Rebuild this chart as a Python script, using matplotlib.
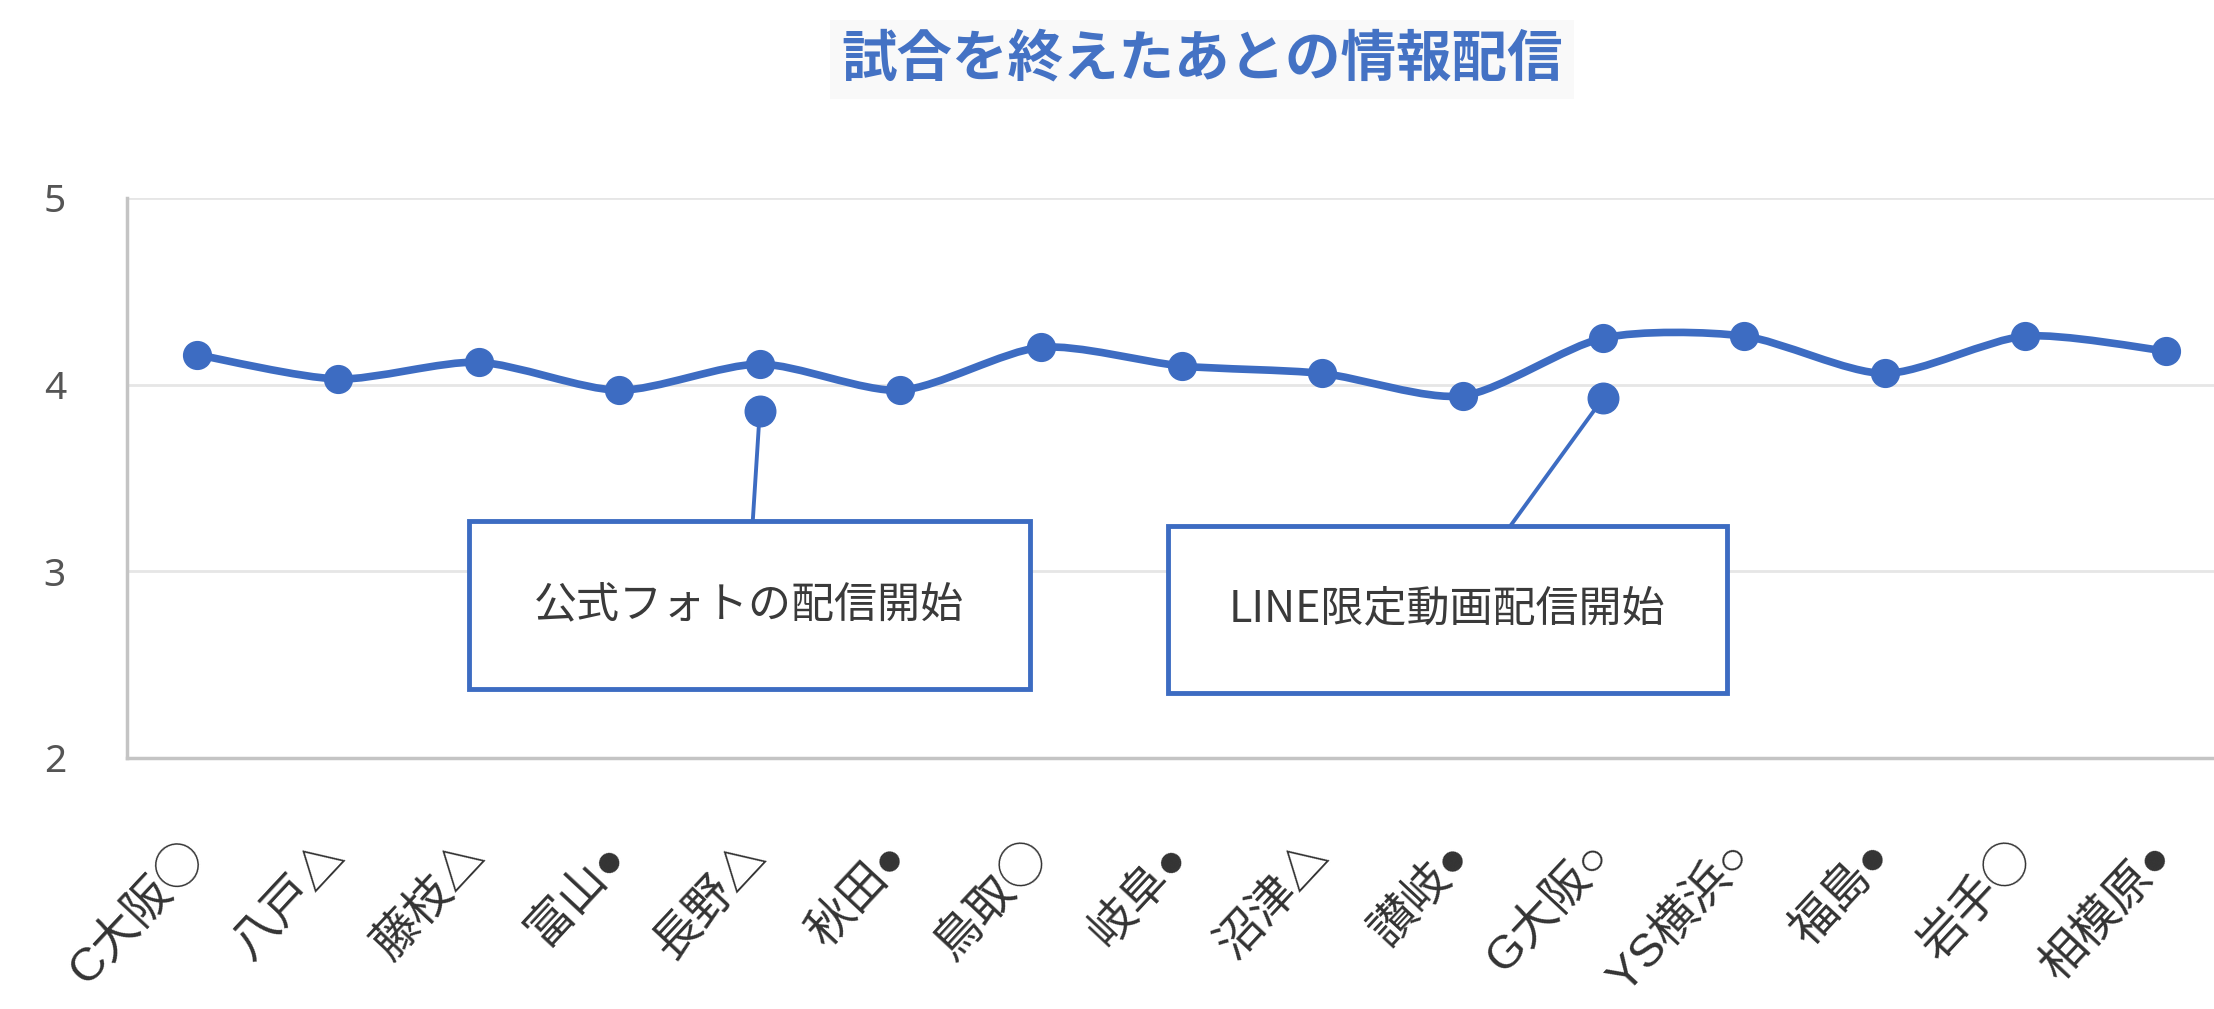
import matplotlib.pyplot as plt
from matplotlib.path import Path
from matplotlib.patches import PathPatch, Rectangle
import numpy as np

plt.rcParams['font.family'] = ['Noto Sans CJK JP', 'DejaVu Sans']

# ratings per match
teams = ['C大阪◯', '八戸△', '藤枝△', '富山●', '長野△', '秋田●', '鳥取◯', '岐阜●',
         '沼津△', '讃岐●', 'G大阪○', 'YS横浜○', '福島●', '岩手◯', '相模原●']
scores = [4.16, 4.03, 4.12, 3.97, 4.11, 3.97, 4.20, 4.10,
          4.06, 3.94, 4.25, 4.26, 4.06, 4.26, 4.18]

# events marked below the line
event_idx = [4, 10]
event_vals = [3.86, 3.93]
event_text = ['公式フォトの配信開始', 'LINE限定動画配信開始']

blue = '#3d6cc2'

fig = plt.figure(figsize=(22.14, 10.09), dpi=100)
ax = fig.add_axes([0.0574, 0.2488, 0.9526, 0.555])

x = np.arange(len(scores))
y = np.array(scores)

# smoothed line (bezier through the points, slightly tighter than catmull-rom)
tension = 0.13
verts = [(x[0], y[0])]
codes = [Path.MOVETO]
n = len(x)
for i in range(n - 1):
    p0 = np.array([x[max(i - 1, 0)], y[max(i - 1, 0)]])
    p1 = np.array([x[i], y[i]])
    p2 = np.array([x[i + 1], y[i + 1]])
    p3 = np.array([x[min(i + 2, n - 1)], y[min(i + 2, n - 1)]])
    c1 = p1 + (p2 - p0) * tension
    c2 = p2 - (p3 - p1) * tension
    verts += [tuple(c1), tuple(c2), tuple(p2)]
    codes += [Path.CURVE4] * 3
ax.add_patch(PathPatch(Path(verts, codes), facecolor='none', edgecolor=blue,
                       lw=5.5, capstyle='round', joinstyle='round', zorder=3))
ax.plot(x, y, 'o', color=blue, markersize=20, zorder=4)

# callouts
boxes = [(1.93, 2.37, 3.99, 0.90, 3.95), (6.90, 2.35, 3.98, 0.895, 9.34)]
for (bx, by, bw, bh, lx), xi, v, t in zip(boxes, event_idx, event_vals, event_text):
    ax.plot(xi, v, 'o', color=blue, markersize=22, zorder=4)
    ax.annotate('', xy=(xi, v), xytext=(lx, by + bh),
                arrowprops=dict(arrowstyle='-', color=blue, lw=2.8,
                                shrinkA=0, shrinkB=0), zorder=3)
    ax.add_patch(Rectangle((bx, by), bw, bh, facecolor='white', edgecolor=blue,
                           lw=3.5, zorder=5))
    ax.text(bx + bw / 2, by + bh / 2, t, ha='center', va='center',
            fontsize=31, color='#3a3a3a', zorder=6)

ax.set_xlim(-0.5, 14.5)
ax.set_ylim(2, 5)
ax.set_yticks([2, 3, 4, 5])
ax.set_xticks(x)
ax.set_xticklabels(teams, rotation=47, ha='right', va='center',
                   rotation_mode='anchor', fontsize=34, color='#333333',
                   family=['Liberation Sans', 'Noto Sans CJK JP'])
for lab in ax.get_yticklabels():
    lab.set_fontfamily(['Noto Sans', 'DejaVu Sans'])
ax.tick_params(axis='y', length=0, pad=44, labelsize=28, labelcolor='#555555')
ax.tick_params(axis='x', length=0, pad=66)
ax.grid(axis='y', color='#e6e6e6', lw=2)
ax.set_axisbelow(True)
for s in ['top', 'right']:
    ax.spines[s].set_visible(False)
for s in ['left', 'bottom']:
    ax.spines[s].set_color('#c4c4c4')
    ax.spines[s].set_linewidth(2.5)

fig.text(0.543, 0.941, '試合を終えたあとの情報配信', ha='center', va='center',
         fontsize=40, fontweight='bold', color='#4472c4',
         bbox=dict(facecolor='#f9f9f9', edgecolor='none', pad=8))

fig.savefig('out.png', dpi=100)
